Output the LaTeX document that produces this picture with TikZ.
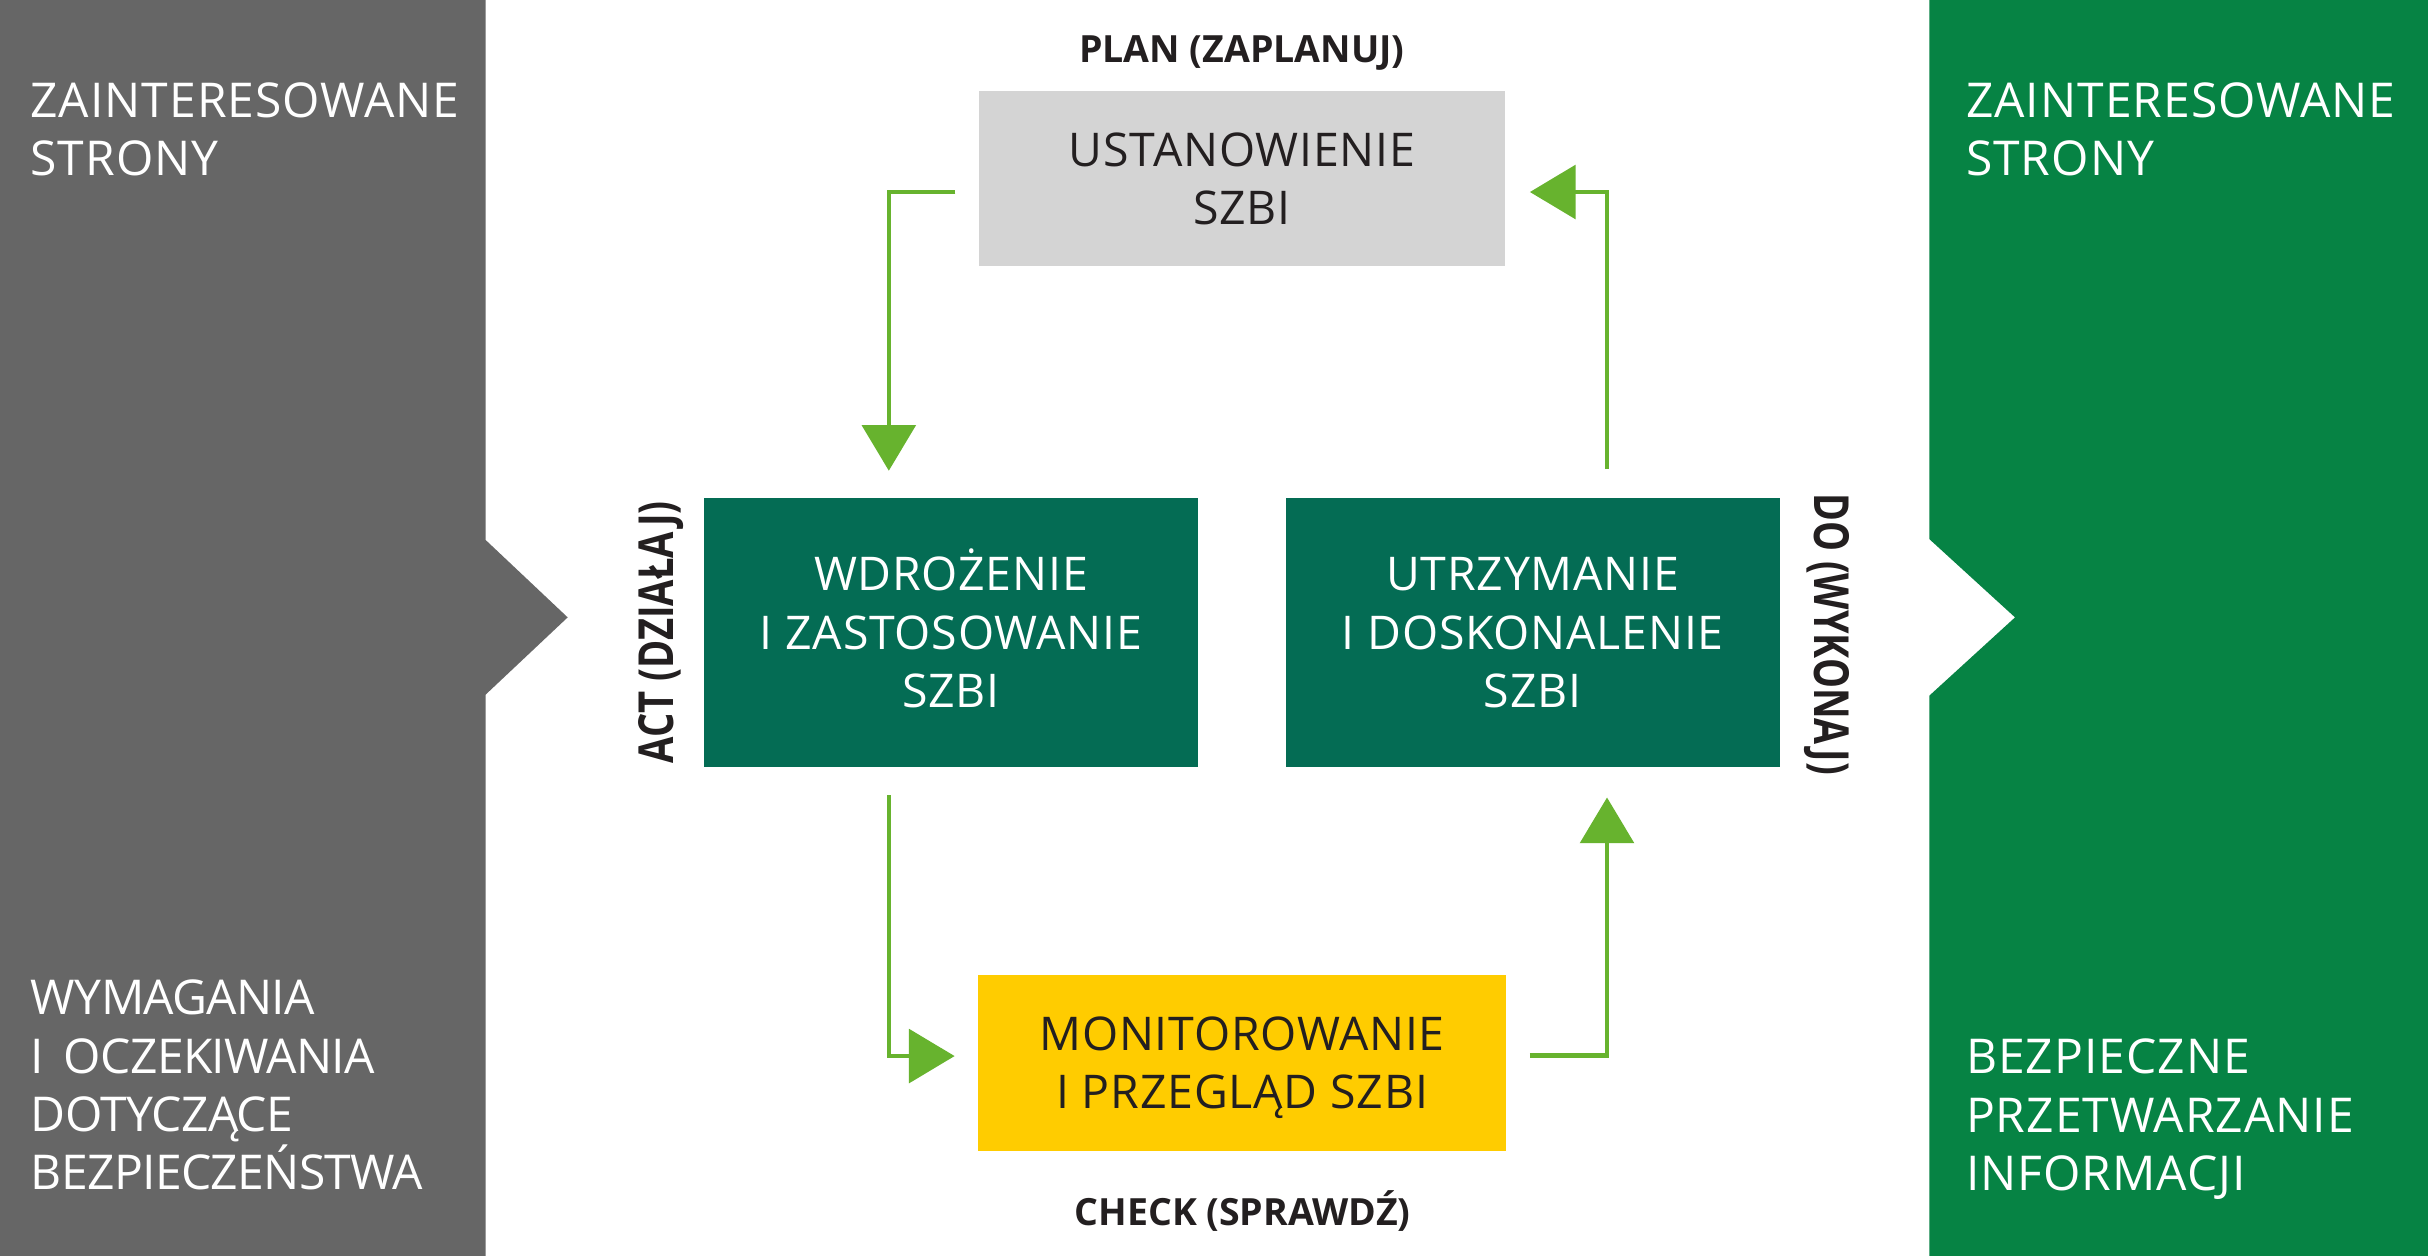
\documentclass[tikz,border=0pt]{standalone}
\usepackage{fontspec}
\setmainfont{Open Sans}
\usetikzlibrary{arrows.meta}
\definecolor{panelgrey}{HTML}{666666}
\definecolor{panelgreen}{HTML}{068344}
\definecolor{boxgreen}{HTML}{046C54}
\definecolor{boxgrey}{HTML}{D4D4D4}
\definecolor{boxyellow}{HTML}{FFCC00}
\definecolor{arrowgreen}{HTML}{67B32E}
\definecolor{darktext}{HTML}{231F20}
\newcommand{\capln}[1]{\raisebox{0pt}[0.714em][0pt]{#1}}
\begin{document}
\begin{tikzpicture}[x=1pt,y=-1pt,
  sidetext/.style={anchor=north west, inner sep=0pt, align=left, text=white, font=\fontsize{31}{37.7}\selectfont\addfontfeature{LetterSpace=2.1}},
  sidetextnarrow/.style={sidetext, font=\fontsize{31}{37.7}\selectfont\addfontfeature{LetterSpace=-1.4}},
  stagebox/.style={rectangle, inner sep=0pt, align=center, font=\fontsize{30}{37.8}\selectfont\addfontfeature{LetterSpace=1.7}},
  phase/.style={inner sep=0pt, anchor=base, text=darktext, font=\bfseries\fontsize{24.2}{29}\selectfont},
  sidephase/.style={inner sep=0pt, anchor=base, text=darktext, font=\bfseries\fontsize{31.2}{37}\selectfont},
  conn/.style={draw=arrowgreen, line width=3pt, line join=miter, -{Triangle[length=29.5pt,width=34.5pt]}}
]
\useasboundingbox (0,0) rectangle (1568,811);
\fill[white] (0,0) rectangle (1568,811);
% side panels
\fill[panelgrey] (0,0) -- (313.6,0) -- (313.6,348.7) -- (366.6,398.7) -- (313.6,448.6) -- (313.6,811) -- (0,811) -- cycle;
\fill[panelgreen] (1245.9,0) -- (1568,0) -- (1568,811) -- (1245.9,811) -- (1245.9,449.3) -- (1301.3,398.7) -- (1245.9,348.1) -- cycle;
% side texts
\node[sidetext] (lt) at (19.5,53.6) {\capln{ZAINTERESOWANE}\\\capln{STRONY}};
\node[sidetextnarrow] (lb) at (19.8,633) {\capln{WYMAGANIA}\\\capln{I \hspace{5pt}OCZEKIWANIA}\\\capln{DOTYCZĄCE}\\\capln{BEZPIECZEŃSTWA}};
\node[sidetext] (rt) at (1269.5,53.6) {\capln{ZAINTERESOWANE}\\\capln{STRONY}};
\node[sidetext] (rb) at (1269.5,671) {\capln{BEZPIECZNE}\\\capln{PRZETWARZANIE}\\\capln{INFORMACJI}};
% stage boxes
\node[stagebox, fill=boxgrey, text=darktext, minimum width=339.7pt, minimum height=113pt] (plan) at (802.1,115.5) {\capln{USTANOWIENIE}\\\capln{SZBI}};
\node[stagebox, fill=boxgreen, text=white, minimum width=319pt, minimum height=173.7pt] (wdr) at (614.1,408.6) {\capln{WDROŻENIE}\\\capln{I ZASTOSOWANIE}\\\capln{SZBI}};
\node[stagebox, fill=boxgreen, text=white, minimum width=318.8pt, minimum height=173.7pt] (utr) at (989.8,408.6) {\capln{UTRZYMANIE}\\\capln{I DOSKONALENIE}\\\capln{SZBI}};
\node[stagebox, fill=boxyellow, text=darktext, minimum width=341pt, minimum height=113.5pt] (mon) at (802.1,686.4) {\capln{MONITOROWANIE}\\\capln{I PRZEGLĄD SZBI}};
% phase labels
\node[phase] (lplan) at (802,40.6) {PLAN (ZAPLANUJ)};
\node[phase] (lcheck) at (802.5,791.7) {CHECK (SPRAWDŹ)};
\node[sidephase, rotate=90] (lact) at (434.8,408.4) {\scalebox{0.79}[1]{ACT (DZIAŁAJ)}};
\node[sidephase, rotate=-90] (ldo) at (1171.6,409.5) {\scalebox{0.78}[1]{DO (WYKONAJ)}};
% connector end points
\coordinate (a1s) at (617,124);
\coordinate (a1e) at (574,304);
\coordinate (a2s) at (574,513.5);
\coordinate (a2e) at (616.5,682);
\coordinate (a3s) at (988,681.5);
\coordinate (a3e) at (1037.8,515);
\coordinate (a4s) at (1037.8,303);
\coordinate (a4e) at (988,124);
\draw[conn] (a1s) -| (a1e);
\draw[conn] (a2s) |- (a2e);
\draw[conn] (a3s) -| (a3e);
\draw[conn] (a4s) |- (a4e);
\end{tikzpicture}
\end{document}
